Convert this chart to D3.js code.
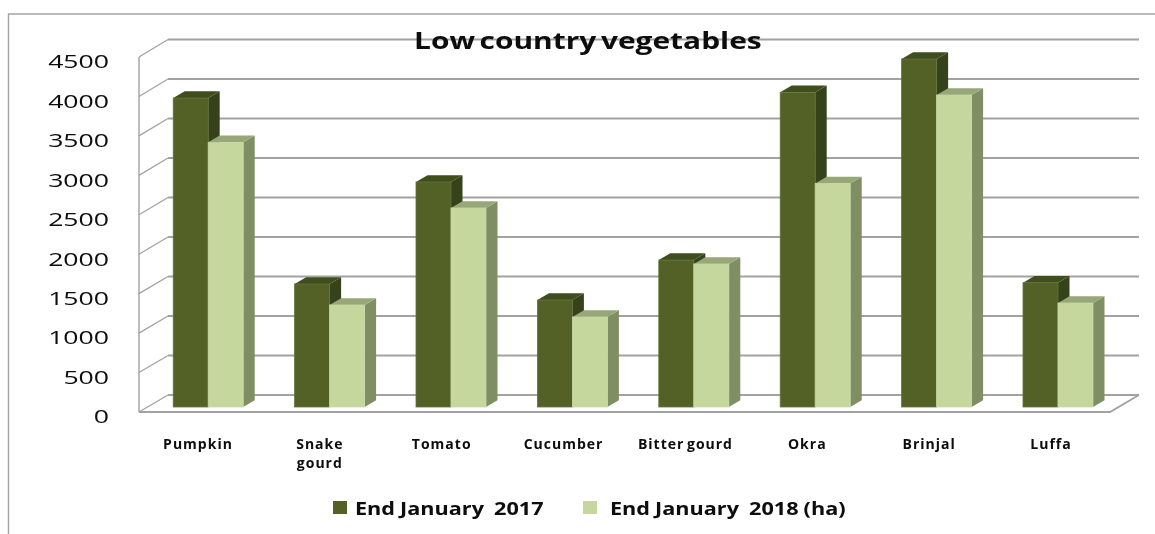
<!DOCTYPE html>
<html><head><meta charset="utf-8">
<script src="https://cdn.jsdelivr.net/npm/d3@7"></script>
<style>html,body{margin:0;padding:0;background:#fff}svg{display:block}text{font-family:"Open Sans",sans-serif;fill:#0a0a0a}</style>
</head><body><div id="c"></div>
<script>
const categories=["Pumpkin","Snake gourd","Tomato","Cucumber","Bitter gourd","Okra","Brinjal","Luffa"];
const seriesNames=["End January  2017","End January  2018 (ha)"];
const values2017=[3911,1557,2848,1354,1860,3983,4405,1573];
const values2018=[3350,1291,2519,1139,1810,2830,3949,1316];
const yTicks=[0,500,1000,1500,2000,2500,3000,3500,4000,4500];
const colors=[{front:"#526127",side:"#35431a",top:"#3f4d1f",edge:"#62743a"},{front:"#c5d79d",side:"#7f8f63",top:"#97a777",edge:"#c9d9a6"}];

const W=1155,H=534;
const svg=d3.select("#c").append("svg").attr("width",W).attr("height",H);
const defs=svg.append("defs");
defs.append("filter").attr("id","soft").append("feGaussianBlur").attr("stdDeviation",0.55);
const root=svg.append("g").attr("filter","url(#soft)");

function stretch(sel,f){sel.each(function(){const w=this.getComputedTextLength();
  d3.select(this).attr("textLength",w*f).attr("lengthAdjust","spacingAndGlyphs");});return sel;}

const depthX=29;
const yFront=d3.scaleLinear().domain([0,4500]).range([412,57]);
const yBack=d3.scaleLinear().domain([0,4500]).range([395,39.5]);
const yBar=d3.scaleLinear().domain([0,4500]).range([407,51.5]);
const xGroup=d3.scaleBand().domain(categories).range([147.5,1118.7]);
const xSeries=d3.scaleBand().domain([0,1]).range([25.7,95.7]);
const xLabel=d3.scalePoint().domain(categories).range([198,1051]);

root.append("path").attr("d","M1155,14H8.5V534").attr("fill","none").attr("stroke","#a3a3a3").attr("stroke-width",1.4);

const grid=root.append("g").attr("fill","none").attr("stroke","#a2a2a2").attr("stroke-width",1.8);
grid.selectAll("line.g").data(yTicks).join("line").attr("class","g")
  .attr("x1",139+depthX).attr("x2",1139).attr("y1",d=>yBack(d)).attr("y2",d=>yBack(d));
grid.selectAll("line.d").data(yTicks).join("line").attr("class","d").attr("stroke-width",1.3)
  .attr("x1",139).attr("x2",139+depthX).attr("y1",d=>yFront(d)).attr("y2",d=>yBack(d));
grid.append("line").attr("x1",139).attr("x2",139).attr("y1",yFront(4500)).attr("y2",yFront(0)).attr("stroke-width",1.4);
grid.append("path").attr("d",`M139,${yFront(0)}H1110L1139,${yBack(0)}`);

const dx=11.5,dy=6.8,baseY=yBar(0);
const groups=root.selectAll("g.cat").data(categories).join("g").attr("class","cat")
  .attr("transform",d=>`translate(${xGroup(d)},0)`);
[values2017,values2018].forEach((vals,s)=>{
  const c=colors[s],b=xSeries.bandwidth();
  const x0=xSeries(s),x1=x0+b;
  groups.append("polygon").attr("fill",c.side)
    .attr("points",(d,i)=>{const t=yBar(vals[i]);return `${x1},${t} ${x1+dx},${t-dy} ${x1+dx},${baseY-dy} ${x1},${baseY}`;});
  groups.append("polygon").attr("fill",c.top)
    .attr("points",(d,i)=>{const t=yBar(vals[i]);return `${x0},${t} ${x0+dx},${t-dy} ${x1+dx},${t-dy} ${x1},${t}`;});
  groups.append("rect").attr("fill",c.front).attr("stroke",c.edge).attr("stroke-width",0.8)
    .attr("x",x0).attr("width",b).attr("y",(d,i)=>yBar(vals[i])).attr("height",(d,i)=>baseY-yBar(vals[i]));
});

const axis=root.append("g").attr("transform","translate(112,4.7)")
  .call(d3.axisLeft(yFront).tickValues(yTicks).tickSize(0).tickPadding(3).tickFormat(d3.format("d")));
axis.select(".domain").remove();
axis.selectAll("text").attr("font-size",19).attr("font-family",'"Open Sans",sans-serif').attr("fill","#0a0a0a");
stretch(axis.selectAll("text"),1.4);

const wrapped={"Snake gourd":["Snake","gourd"]};
const cats=root.selectAll("text.c").data(categories).join("text").attr("class","c")
  .attr("text-anchor","middle").attr("font-size",14).attr("font-weight",700)
  .attr("x",d=>xLabel(d)).attr("y",449);
cats.each(function(d){
  const lines=wrapped[d]||[d];const t=d3.select(this);
  lines.forEach((l,i)=>t.append("tspan").attr("x",xLabel(d)).attr("dy",i?19:0).text(l));
});
root.selectAll("text.c tspan").attr("letter-spacing",1).attr("word-spacing",-2);

stretch(root.append("text").attr("x",414).attr("y",49).attr("font-size",24).attr("font-weight",700).attr("word-spacing",-2.5).text("Low country vegetables"),1.245);

[[333,355],[583,610]].forEach(([sx,tx],i)=>{
  root.append("rect").attr("x",sx).attr("y",501).attr("width",14).attr("height",13).attr("fill",colors[i].front);
  stretch(root.append("text").attr("x",tx).attr("y",514.5).attr("font-size",18.5).attr("font-weight",700).attr("word-spacing",-0.5).style("white-space","pre").text(seriesNames[i]),1.17);
});
</script></body></html>
